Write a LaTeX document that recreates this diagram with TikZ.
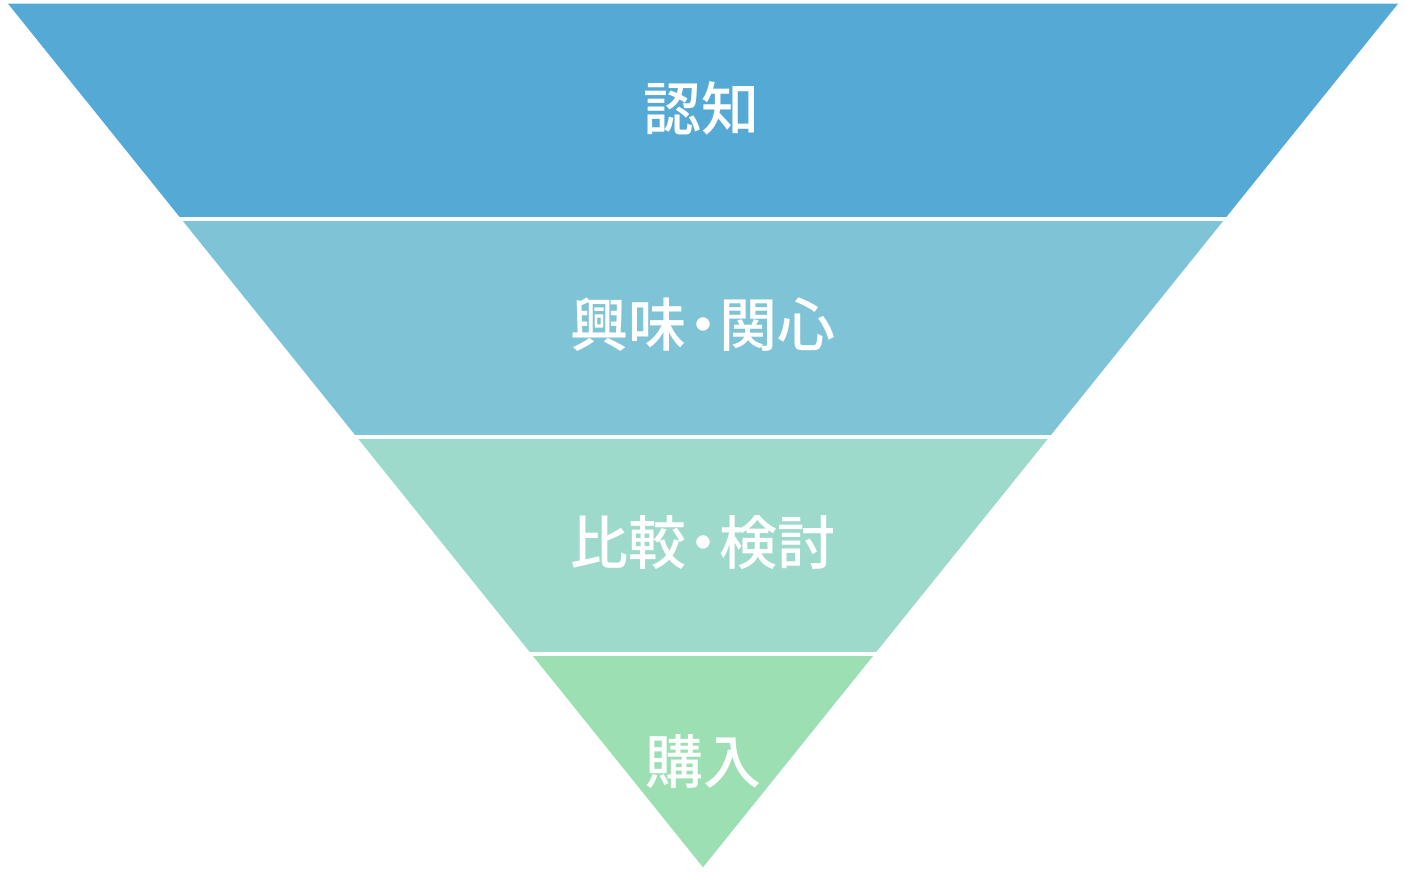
\documentclass[tikz,border=0pt]{standalone}
\usepackage{fontspec}
\newfontfamily\cjk{Noto Sans CJK JP Medium}
\usetikzlibrary{calc}
\definecolor{bandA}{RGB}{85,169,213}
\definecolor{bandB}{RGB}{127,195,214}
\definecolor{bandC}{RGB}{157,218,204}
\definecolor{bandD}{RGB}{155,223,178}
\newcommand{\middot}{\kern-0.22em・\kern-0.22em}
\tikzset{
  lbl/.style={text=white,font=\cjk\fontsize{58}{58}\selectfont,inner sep=0pt,anchor=center},
  gapline/.style={draw=white,line width=4pt}
}
\begin{document}
\begin{tikzpicture}[x=1pt,y=-1pt]
\useasboundingbox (0,0) rectangle (1406,873);
\coordinate (L) at (8,3.7);
\coordinate (R) at (1398,3.7);
\coordinate (A) at (703,867.3);
\def\ta{0.249}
\def\tb{0.5013}
\def\tc{0.7527}
\fill[bandA] (L) -- (R) -- ($(R)!\ta!(A)$) -- ($(L)!\ta!(A)$) -- cycle;
\fill[bandB] ($(L)!\ta!(A)$) -- ($(R)!\ta!(A)$) -- ($(R)!\tb!(A)$) -- ($(L)!\tb!(A)$) -- cycle;
\fill[bandC] ($(L)!\tb!(A)$) -- ($(R)!\tb!(A)$) -- ($(R)!\tc!(A)$) -- ($(L)!\tc!(A)$) -- cycle;
\fill[bandD] ($(L)!\tc!(A)$) -- ($(R)!\tc!(A)$) -- (A) -- cycle;
\draw[gapline] ($(L)!\ta!(A)+(-3,0)$) -- ($(R)!\ta!(A)+(3,0)$);
\draw[gapline] ($(L)!\tb!(A)+(-3,0)$) -- ($(R)!\tb!(A)+(3,0)$);
\draw[gapline] ($(L)!\tc!(A)+(-3,0)$) -- ($(R)!\tc!(A)+(3,0)$);
\node[lbl] (n1) at (701,108) {認知};
\node[lbl] (n2) at (703,325) {興味\middot 関心};
\node[lbl] (n3) at (703,543) {比較\middot 検討};
\node[lbl] (n4) at (703,762) {購入};
\end{tikzpicture}
\end{document}
